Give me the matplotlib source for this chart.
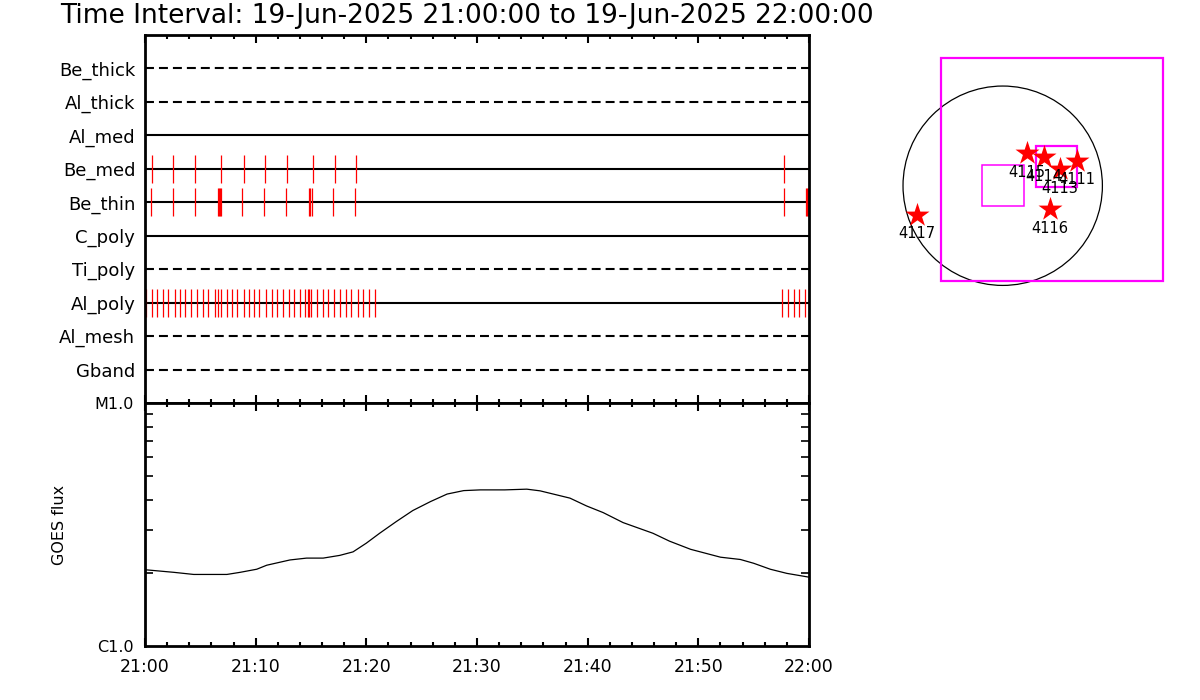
import numpy as np
import matplotlib.pyplot as plt
from matplotlib.patches import Circle, Rectangle
from matplotlib.ticker import MultipleLocator, FixedLocator, NullFormatter

# filter rows, top to bottom
filters = ['Be_thick', 'Al_thick', 'Al_med', 'Be_med', 'Be_thin',
           'C_poly', 'Ti_poly', 'Al_poly', 'Al_mesh', 'Gband']
dashed = [True, True, False, False, False, False, True, False, True, True]

# event times in minutes after 21:00
be_med_times = [0.66, 2.56, 4.55, 6.9, 8.97, 10.87, 12.86, 15.21, 17.2, 19.1,
                57.7, 59.97]
be_thin_times = [0.51, 2.56, 4.55, 6.6, 6.7, 6.8, 6.9, 8.79, 10.78, 12.77,
                 14.82, 14.95, 15.12, 17.0, 19.0, 57.7, 59.7, 59.8, 59.9, 60.0]
al_poly_times = [0.05, 0.6, 1.11, 1.6, 2.1, 2.74, 3.19, 3.64, 4.18, 4.73,
                 5.27, 5.72, 6.3, 6.57, 6.84, 7.38, 7.83, 8.34, 8.92, 9.42,
                 9.88, 10.33, 10.96, 11.5, 11.95, 12.44, 13.04, 13.49, 13.98,
                 14.48, 14.76, 14.85, 15.03, 15.57, 16.06, 16.56, 17.1, 17.62,
                 18.13, 18.64, 19.27, 19.73, 20.21, 20.76,
                 57.6, 58.1, 58.6, 59.1, 59.6]
events = {'Be_med': be_med_times, 'Be_thin': be_thin_times, 'Al_poly': al_poly_times}

# GOES flux
goes_min = [0, 2.6, 4.4, 7.4, 8.6, 10.1, 11.0, 13.1, 14.6, 16.1, 17.6, 18.8,
            20.0, 21.2, 22.7, 24.2, 25.8, 27.3, 28.8, 30.3, 32.5, 34.5, 35.7,
            38.4, 39.9, 41.4, 43.2, 45.9, 47.4, 49.3, 52.0, 53.8, 55.0, 56.5,
            58.0, 60.0]
goes_flux = np.array([2.06, 2.01, 1.97, 1.97, 2.01, 2.07, 2.15, 2.26, 2.30, 2.30,
                      2.36, 2.44, 2.65, 2.91, 3.25, 3.61, 3.93, 4.22, 4.36, 4.39,
                      4.39, 4.42, 4.35, 4.06, 3.77, 3.54, 3.22, 2.91, 2.70, 2.50,
                      2.32, 2.27, 2.19, 2.07, 1.99, 1.92]) * 1e-6

time_ticks = [0, 10, 20, 30, 40, 50, 60]
time_labels = ['21:00', '21:10', '21:20', '21:30', '21:40', '21:50', '22:00']

# map panel (arcsec)
rsun = 957
box_cx = [473, 0, 514]
box_cy = [158, 3, 181]
box_size = [2137, 400, 395]
ar_x = [715, 549, 397, 230, 455, -826]
ar_y = [237, 157, 273, 311, -227, -280]
ar_num = ['4111', '4113', '4114', '4115', '4116', '4117']

title = 'Time Interval: 19-Jun-2025 21:00:00 to 19-Jun-2025 22:00:00'

fig = plt.figure(figsize=(12, 7), dpi=100)
W, H = 1200, 700
ax1 = fig.add_axes([145 / W, 1 - 403 / H, 664 / W, 368 / H])
ax2 = fig.add_axes([145 / W, 1 - 646 / H, 664 / W, 243 / H])
ax3 = fig.add_axes([890 / W, 1 - 300 / H, 290 / W, 260 / H])

fig.text(60 / W, 1 - 16 / H, title, ha='left', va='center', fontsize=19)

# --- filter panel
nrow = len(filters)
rows = np.arange(nrow, 0, -1)
for name, y, d in zip(filters, rows, dashed):
    ls = (0, (4.3, 2.4)) if d else '-'
    ax1.plot([0, 60], [y, y], color='black', lw=1.5, ls=ls)
    if name in events:
        ax1.vlines(events[name], y - 0.42, y + 0.42, color='red', lw=0.9)
ax1.set_xlim(0, 60)
ax1.set_ylim(0, nrow + 1)
ax1.set_yticks(rows)
ax1.set_yticklabels(filters, fontsize=13)
ax1.tick_params(axis='y', length=0, pad=7)
ax1.xaxis.set_major_locator(FixedLocator(time_ticks))
ax1.xaxis.set_minor_locator(MultipleLocator(2))
ax1.tick_params(axis='x', which='both', direction='in', top=True, bottom=True,
                labelbottom=False, width=1.5)
ax1.tick_params(axis='x', which='major', length=6)
ax1.tick_params(axis='x', which='minor', length=3)

# --- GOES panel
ax2.plot(goes_min, goes_flux, color='black', lw=0.9)
ax2.set_yscale('log')
ax2.set_xlim(0, 60)
ax2.set_ylim(1e-6, 1e-5)
ax2.yaxis.set_major_locator(FixedLocator([1e-6, 1e-5]))
ax2.set_yticklabels(['C1.0', 'M1.0'], fontsize=11.5)
ax2.yaxis.set_minor_locator(FixedLocator([k * 1e-6 for k in range(2, 10)]))
ax2.yaxis.set_minor_formatter(NullFormatter())
ax2.tick_params(axis='y', which='major', length=0, pad=8)
ax2.tick_params(axis='y', which='minor', direction='in', left=True, right=True,
                length=6, width=1.2)
ax2.xaxis.set_major_locator(FixedLocator(time_ticks))
ax2.xaxis.set_minor_locator(MultipleLocator(2))
ax2.set_xticklabels(time_labels, fontsize=12.5)
ax2.tick_params(axis='x', which='both', direction='in', top=True, bottom=True, width=1.5, pad=9)
ax2.tick_params(axis='x', which='major', length=6)
ax2.tick_params(axis='x', which='minor', length=3)
ax2.set_ylabel('GOES flux', fontsize=11.5)
ax2.yaxis.set_label_coords((67 - 145) / 664, 0.5)

for ax in (ax1, ax2):
    for s in ax.spines.values():
        s.set_linewidth(2)

# --- map panel
ax3.set_xlim(-1082, 1702)
ax3.set_ylim(-1097, 1399)
ax3.axis('off')
ax3.add_patch(Circle((0, 0), rsun, fill=False, color='black', lw=0.9))
for cx, cy, sz, lw in zip(box_cx, box_cy, box_size, [1.6, 1.1, 1.6]):
    ax3.add_patch(Rectangle((cx - sz / 2, cy - sz / 2), sz, sz, fill=False,
                            edgecolor='#ff00ff', lw=lw))
ax3.scatter(ar_x, ar_y, marker='*', s=330, color='red', zorder=3, linewidths=0)
for x, y, lab in zip(ar_x, ar_y, ar_num):
    ax3.annotate(lab, (x, y), xytext=(0, -13.5), textcoords='offset points',
                 ha='center', va='center', fontsize=10.5, zorder=4)

fig.savefig('out.png', dpi=100)
